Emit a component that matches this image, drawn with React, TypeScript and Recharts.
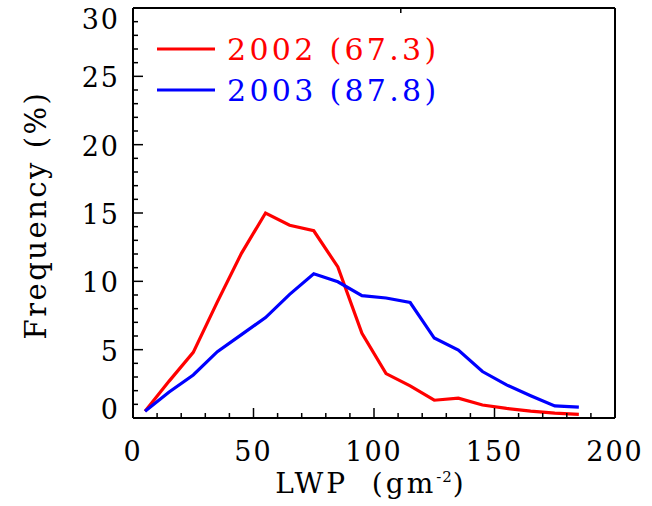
import React from "react";
import { LineChart, Line, XAxis, YAxis, Legend } from "recharts";

const lwp = [5, 15, 25, 35, 45, 55, 65, 75, 85, 95, 105, 115, 125, 135, 145, 155, 165, 175, 185];
const freq2002 = [0.5, 2.7, 4.8, 8.5, 12.05, 15.0, 14.1, 13.7, 11.05, 6.2, 3.25, 2.35, 1.3, 1.45, 0.95, 0.7, 0.5, 0.35, 0.27];
const freq2003 = [0.5, 1.9, 3.15, 4.85, 6.1, 7.35, 9.05, 10.55, 9.97, 8.95, 8.78, 8.45, 5.85, 4.97, 3.4, 2.42, 1.63, 0.88, 0.8];
const seriesNames = ["2002 (67.3)", "2003 (87.8)"];
const seriesColors = ["#ff0000", "#0000ff"];
const xTicks = [0, 10, 20, 30, 40, 50, 60, 70, 80, 90, 100, 110, 120, 130, 140, 150, 160, 170, 180, 190, 200];
const yTicks = [0, 1, 2, 3, 4, 5, 6, 7, 8, 9, 10, 11, 12, 13, 14, 15, 16, 17, 18, 19, 20, 21, 22, 23, 24, 25, 26, 27, 28, 29, 30];

const data = lwp.map((x, i) => ({ lwp: x, a: freq2002[i], b: freq2003[i] }));

const FONT = "'DejaVu Serif', serif";

const BottomTick = (props: any) => {
  const { x, y, payload } = props;
  const v = payload.value;
  const major = v % 50 === 0;
  return (
    <g>
      <line x1={x} x2={x} y1={y} y2={y - (major ? 10 : 5)} stroke="#000" strokeWidth={1.5} />
      {major && (
        <text x={x} y={y + 43} textAnchor="middle" fontFamily={FONT} fontSize={27} letterSpacing={2} fill="#000">
          {v}
        </text>
      )}
    </g>
  );
};

const TopTick = (props: any) => {
  const { x, y, payload } = props;
  const major = payload.value % 50 === 0;
  return <line x1={x} x2={x} y1={y} y2={y + (major ? 10 : 5)} stroke="#000" strokeWidth={1.5} />;
};

const LeftTick = (props: any) => {
  const { x, y, payload } = props;
  const v = payload.value;
  const major = v % 5 === 0;
  let ty = y + 11;
  if (v === 30) ty = y + 21;
  if (v === 0) ty = y + 1;
  return (
    <g>
      <line x1={x} x2={x + (major ? 10 : 5)} y1={y} y2={y} stroke="#000" strokeWidth={1.5} />
      {major && (
        <text x={x - 13} y={ty} textAnchor="end" fontFamily={FONT} fontSize={27} letterSpacing={2} fill="#000">
          {v}
        </text>
      )}
    </g>
  );
};

const RightTick = (props: any) => {
  const { x, y, payload } = props;
  const major = payload.value % 5 === 0;
  return <line x1={x} x2={x - (major ? 10 : 5)} y1={y} y2={y} stroke="#000" strokeWidth={1.5} />;
};

const LegendContent = () => (
  <svg width={320} height={90} style={{ display: "block" }}>
    {seriesNames.map((n, i) => (
      <g key={n}>
        <line x1={7} x2={65} y1={24 + i * 41} y2={24 + i * 41} stroke={seriesColors[i]} strokeWidth={3} />
        <text x={77} y={35 + i * 41} fontFamily={FONT} fontSize={30} letterSpacing={3.3} fill={seriesColors[i]}>
          {n}
        </text>
      </g>
    ))}
  </svg>
);

export default function App() {
  return (
    <div style={{ position: "absolute", left: 0, top: 0, width: 652, height: 506, background: "#fff" }}>
      <LineChart width={652} height={506} data={data} margin={{ top: 0, right: 0, bottom: 0, left: 0 }}>
        <XAxis
          dataKey="lwp"
          type="number"
          domain={[0, 200]}
          ticks={xTicks}
          interval={0}
          height={88}
          tickSize={0}
          tickMargin={0}
          tickLine={false}
          tick={<BottomTick />}
          axisLine={{ stroke: "#000", strokeWidth: 2 }}
          label={{
            content: (p: any) => {
              const vb = p.viewBox;
              return (
                <text x={vb.x + vb.width / 2 - 3} y={vb.y + 75} textAnchor="middle" fontFamily={FONT} fontSize={28} letterSpacing={3} fill="#000" style={{ whiteSpace: "pre" }}>
                  {"LWP  (gm"}
                  <tspan dy={-11} fontSize={15} letterSpacing={1}>-2</tspan>
                  <tspan dy={11}>)</tspan>
                </text>
              );
            },
          }}
        />
        <XAxis
          xAxisId="top"
          orientation="top"
          type="number"
          domain={[0, 200]}
          ticks={xTicks}
          interval={0}
          height={8}
          tickSize={0}
          tickMargin={0}
          tickLine={false}
          tick={<TopTick />}
          axisLine={{ stroke: "#000", strokeWidth: 2 }}
        />
        <YAxis
          type="number"
          domain={[0, 30]}
          ticks={yTicks}
          interval={0}
          width={133}
          tickSize={0}
          tickMargin={0}
          tickLine={false}
          tick={<LeftTick />}
          axisLine={{ stroke: "#000", strokeWidth: 2 }}
          label={{
            content: (p: any) => {
              const vb = p.viewBox;
              const cx = 36;
              const cy = vb.y + vb.height / 2 + 2;
              return (
                <text transform={`translate(${cx},${cy}) rotate(-90)`} textAnchor="middle" dominantBaseline="central" fontFamily={FONT} fontSize={29} letterSpacing={2.5} fill="#000">
                  Frequency (%)
                </text>
              );
            },
          }}
        />
        <YAxis
          yAxisId="right"
          orientation="right"
          type="number"
          domain={[0, 30]}
          ticks={yTicks}
          interval={0}
          width={37}
          tickSize={0}
          tickMargin={0}
          tickLine={false}
          tick={<RightTick />}
          axisLine={{ stroke: "#000", strokeWidth: 2 }}
        />
        <Legend
          layout="horizontal"
          verticalAlign="middle"
          align="center"
          content={<LegendContent />}
          wrapperStyle={{ position: "absolute", left: 150, top: 25, width: 320, height: 90 }}
        />
        <Line dataKey="a" name={seriesNames[0]} stroke={seriesColors[0]} strokeWidth={3.2} dot={false} isAnimationActive={false} />
        <Line dataKey="b" name={seriesNames[1]} stroke={seriesColors[1]} strokeWidth={3.2} dot={false} isAnimationActive={false} />
      </LineChart>
    </div>
  );
}
